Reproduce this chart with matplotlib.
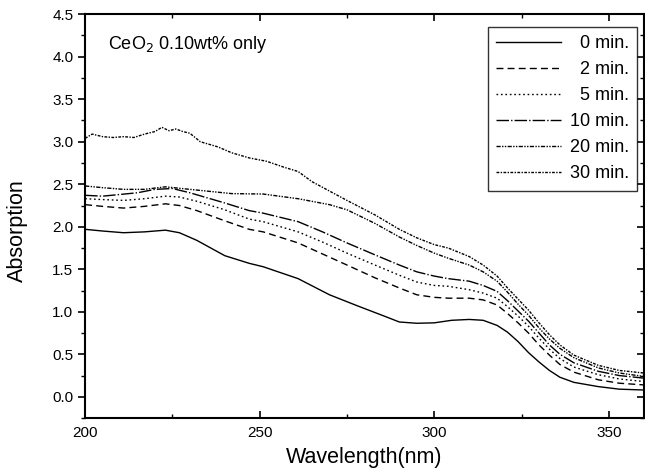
import matplotlib
matplotlib.use("Agg")
import matplotlib.pyplot as plt
from matplotlib.ticker import MultipleLocator
import numpy as np

plt.rcParams['font.family'] = ['Liberation Sans', 'DejaVu Sans']

# wavelength (nm) / absorption
wl_0 = [200, 205, 211, 217, 223, 227, 232, 240, 247, 251, 261, 270, 278, 285, 290, 295, 300, 305, 310, 314, 318, 321, 324, 327, 330, 333, 336, 340, 347, 353, 360]
ab_0 = [1.97, 1.95, 1.93, 1.94, 1.96, 1.93, 1.84, 1.66, 1.57, 1.53, 1.39, 1.20, 1.07, 0.96, 0.88, 0.865, 0.87, 0.90, 0.91, 0.90, 0.84, 0.76, 0.65, 0.52, 0.41, 0.31, 0.23, 0.17, 0.12, 0.09, 0.08]

wl_2 = [200, 205, 211, 217, 223, 227, 232, 240, 247, 251, 261, 268, 275, 283, 290, 295, 300, 304, 310, 314, 318, 321, 324, 327, 330, 333, 336, 340, 347, 353, 360]
ab_2 = [2.26, 2.24, 2.22, 2.24, 2.27, 2.25, 2.19, 2.07, 1.97, 1.94, 1.81, 1.68, 1.55, 1.40, 1.28, 1.20, 1.17, 1.16, 1.16, 1.14, 1.08, 0.98, 0.87, 0.75, 0.61, 0.49, 0.38, 0.29, 0.20, 0.16, 0.14]

wl_5 = [200, 205, 211, 217, 223, 227, 232, 240, 247, 251, 261, 268, 275, 283, 290, 295, 300, 304, 310, 314, 318, 321, 324, 327, 330, 333, 336, 340, 347, 353, 360]
ab_5 = [2.33, 2.32, 2.31, 2.33, 2.36, 2.35, 2.30, 2.20, 2.09, 2.06, 1.94, 1.82, 1.69, 1.55, 1.43, 1.35, 1.31, 1.30, 1.26, 1.22, 1.16, 1.06, 0.95, 0.83, 0.69, 0.56, 0.45, 0.35, 0.26, 0.21, 0.18]

wl_10 = [200, 205, 210, 215, 220, 225, 230, 240, 247, 251, 261, 268, 275, 283, 290, 295, 300, 304, 310, 314, 318, 321, 324, 327, 330, 333, 336, 340, 347, 353, 360]
ab_10 = [2.37, 2.36, 2.38, 2.40, 2.44, 2.45, 2.40, 2.28, 2.19, 2.16, 2.06, 1.94, 1.81, 1.67, 1.55, 1.47, 1.42, 1.39, 1.36, 1.31, 1.24, 1.13, 1.01, 0.89, 0.75, 0.61, 0.50, 0.40, 0.30, 0.25, 0.22]

wl_20 = [200, 205, 211, 217, 223, 230, 242, 251, 261, 270, 275, 283, 290, 295, 300, 304, 310, 314, 318, 321, 324, 327, 330, 333, 336, 340, 347, 353, 360]
ab_20 = [2.48, 2.46, 2.44, 2.44, 2.47, 2.44, 2.39, 2.385, 2.33, 2.26, 2.20, 2.04, 1.88, 1.78, 1.69, 1.63, 1.55, 1.47, 1.36, 1.23, 1.09, 0.96, 0.81, 0.68, 0.57, 0.46, 0.34, 0.28, 0.24]

wl_30 = [200, 202, 205, 208, 211, 214, 217, 220, 222, 224, 226, 228, 230, 233, 238, 242, 247, 252, 257, 261, 265, 270, 275, 283, 290, 295, 300, 304, 310, 314, 318, 321, 324, 327, 330, 333, 336, 340, 347, 353, 360]
ab_30 = [3.04, 3.09, 3.06, 3.05, 3.06, 3.05, 3.09, 3.12, 3.17, 3.13, 3.15, 3.12, 3.10, 3.00, 2.94, 2.87, 2.81, 2.77, 2.70, 2.65, 2.53, 2.42, 2.31, 2.14, 1.97, 1.87, 1.79, 1.75, 1.65, 1.55, 1.42, 1.28, 1.15, 1.02, 0.87, 0.73, 0.61, 0.49, 0.37, 0.31, 0.28]

labels = ['\u20070 min.', '\u20072 min.', '\u20075 min.', '10 min.', '20 min.', '30 min.']
styles = ['-', (0, (5, 3)), (0, (1.2, 2)), (0, (9, 1.5, 1, 1.5)), (0, (3, 1, 1, 1, 1, 1)), (0, (2, 1, 1, 1))]

fig = plt.figure(figsize=(6.45, 4.74), dpi=100)
ax = fig.add_axes([0.132, 0.118, 0.866, 0.852])

series = [(wl_0, ab_0), (wl_2, ab_2), (wl_5, ab_5), (wl_10, ab_10), (wl_20, ab_20), (wl_30, ab_30)]
for (x, y), lab, ls in zip(series, labels, styles):
    ax.plot(x, y, color='black', lw=1.0, ls=ls, label=lab)

ax.set_xlim(200, 360)
ax.set_ylim(-0.25, 4.5)
ax.xaxis.set_major_locator(MultipleLocator(50))
ax.xaxis.set_minor_locator(MultipleLocator(25))
ax.yaxis.set_major_locator(MultipleLocator(0.5))
ax.yaxis.set_minor_locator(MultipleLocator(0.25))
ax.yaxis.set_major_formatter(plt.FormatStrFormatter('%.1f'))

ax.tick_params(axis='x', which='both', direction='in', top=True, labelsize=11, pad=6)
ax.tick_params(axis='y', which='both', direction='out', labelsize=11)
ax.tick_params(which='major', length=5, width=1.2)
ax.tick_params(which='minor', length=3, width=1.0)
# right side ticks point inward
ax.tick_params(axis='y', which='both', right=True)
for t in ax.yaxis.get_major_ticks() + ax.yaxis.get_minor_ticks():
    t.tick2line.set_marker(matplotlib.lines.TICKLEFT)
for sp in ax.spines.values():
    sp.set_linewidth(1.5)

ax.set_xlabel('Wavelength(nm)', fontsize=15.5, labelpad=5)
ax.set_ylabel('Absorption', fontsize=15.5)
ax.yaxis.set_label_coords(-0.102, 0.465)

ax.text(206.5, 4.14, 'CeO$_2$ 0.10wt% only', fontsize=13, va='center')

leg = ax.legend(loc='upper right', bbox_to_anchor=(0.988, 0.968), fontsize=13,
                frameon=True, fancybox=False, edgecolor='black', handlelength=3.6,
                handletextpad=0.5, labelspacing=0.5, borderpad=0.45, borderaxespad=0)
leg.get_frame().set_linewidth(1.0)

fig.savefig('out.png', dpi=100)
